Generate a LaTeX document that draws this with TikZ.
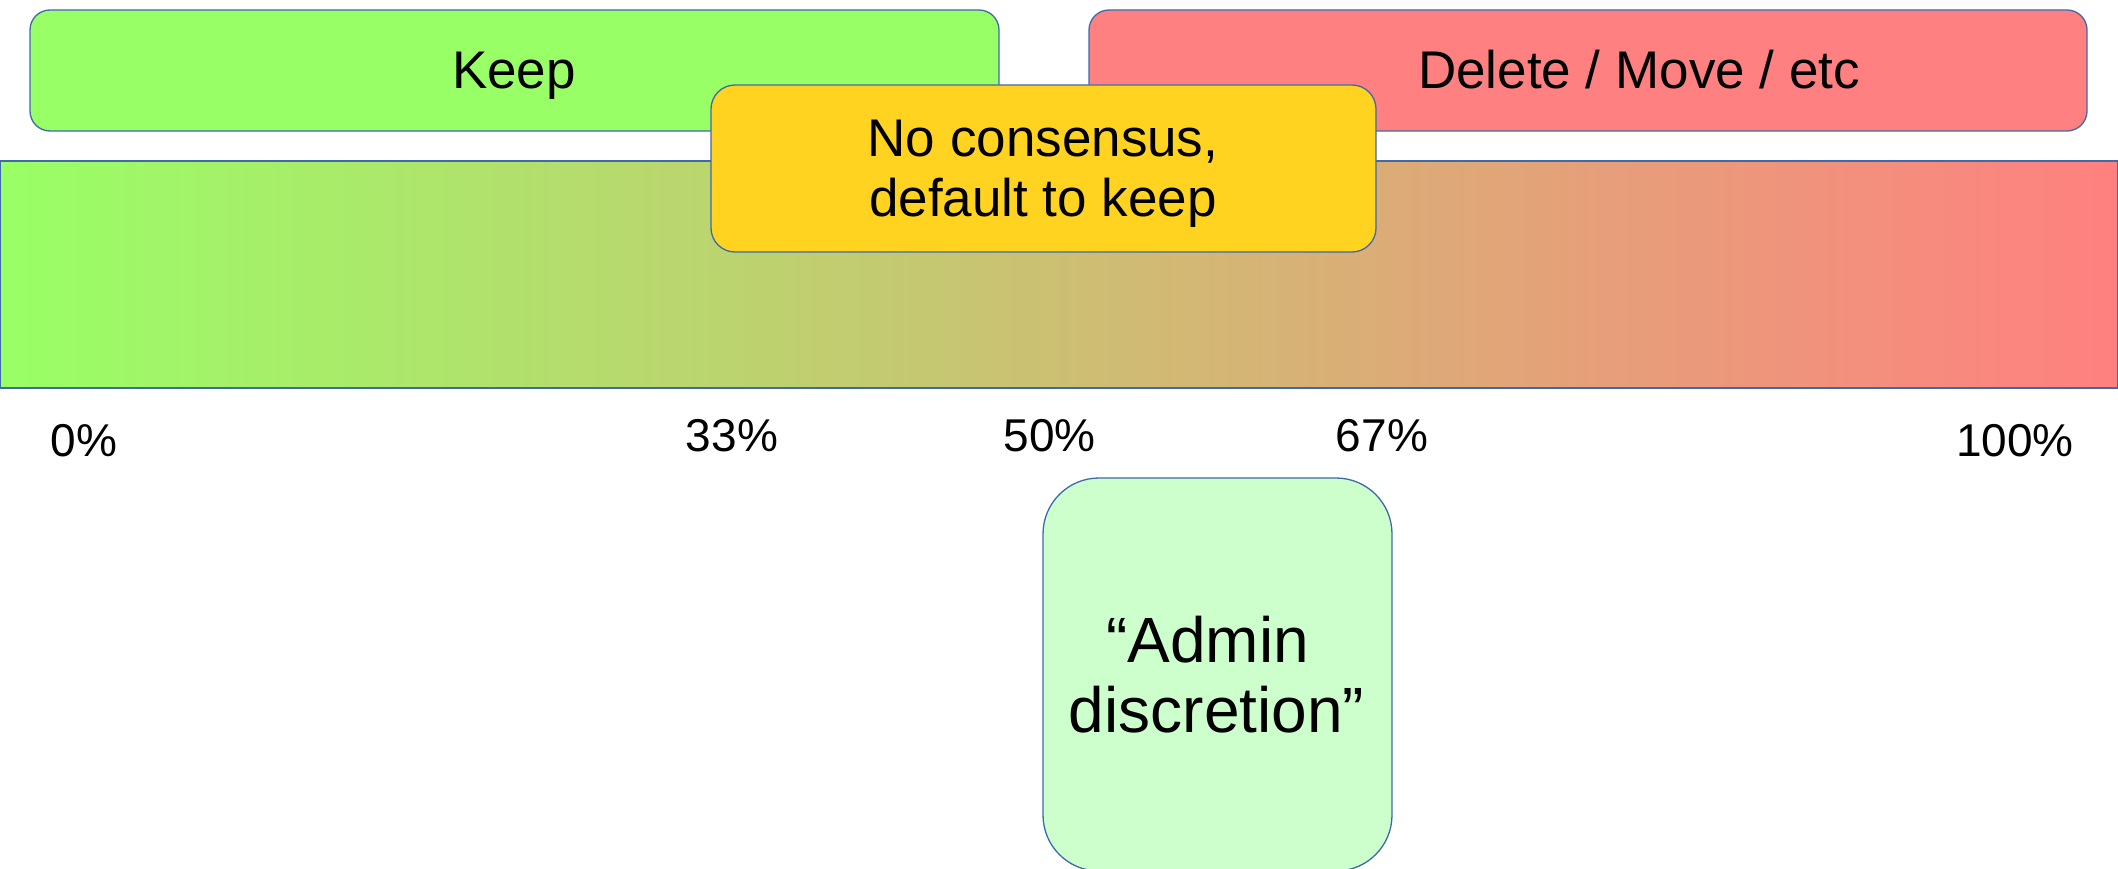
\documentclass[tikz,border=0pt]{standalone}
\usepackage{fontspec}
\setmainfont{Liberation Sans}
\definecolor{keepgreen}{HTML}{99FF66}
\definecolor{delred}{HTML}{FF8080}
\definecolor{nocyellow}{HTML}{FFD320}
\definecolor{admingreen}{HTML}{CCFFCC}
\definecolor{bordercol}{HTML}{3F6AAA}
\tikzset{
  box/.style={draw=bordercol, line width=1.3pt, inner sep=0pt, outer sep=0pt},
  lbl/.style={anchor=base, inner sep=0pt, text=black},
  big/.style={font=\fontsize{53pt}{60pt}\selectfont},
  pct/.style={font=\fontsize{46pt}{54pt}\selectfont},
  huge/.style={font=\fontsize{64pt}{72pt}\selectfont}
}
\begin{document}
\begin{tikzpicture}[x=1pt,y=-1pt]
\useasboundingbox (0,0) rectangle (2118,869);
% top boxes
\node[box, fill=keepgreen, rounded corners=20pt, minimum width=969pt, minimum height=121pt] (keep) at (514.5,70.5) {};
\node[box, fill=delred, rounded corners=20pt, minimum width=998pt, minimum height=121pt] (del) at (1588,70.5) {};
% gradient bar
\node[box, left color=keepgreen, right color=delred, minimum width=2116.5pt, minimum height=227pt] (bar) at (1059,274.5) {};
% no consensus box
\node[box, fill=nocyellow, rounded corners=24pt, minimum width=665pt, minimum height=167pt] (noc) at (1043.5,168.5) {};
% admin discretion box
\node[box, fill=admingreen, rounded corners=56pt, minimum width=349pt, minimum height=393pt] (admin) at (1217.5,674.5) {};
% texts
\node[lbl, big] (keeptxt) at (514,89) {Keep};
\node[lbl, big] (deltxt) at (1639,89) {Delete / Move / etc};
\node[lbl, big] (noc1) at (1043,157) {No consensus,};
\node[lbl, big] (noc2) at (1043,217) {default to keep};
\node[lbl, huge] (adm1) at (1207.5,662) {“Admin};
\node[lbl, huge] (adm2) at (1216.5,732) {discretion”};
\node[lbl, pct] (p0) at (84,456) {0\%};
\node[lbl, pct] (p33) at (732,451) {33\%};
\node[lbl, pct] (p50) at (1049.5,451) {50\%};
\node[lbl, pct] (p67) at (1382,451) {67\%};
\node[lbl, pct] (p100) at (2015,456) {100\%};
\end{tikzpicture}
\end{document}
